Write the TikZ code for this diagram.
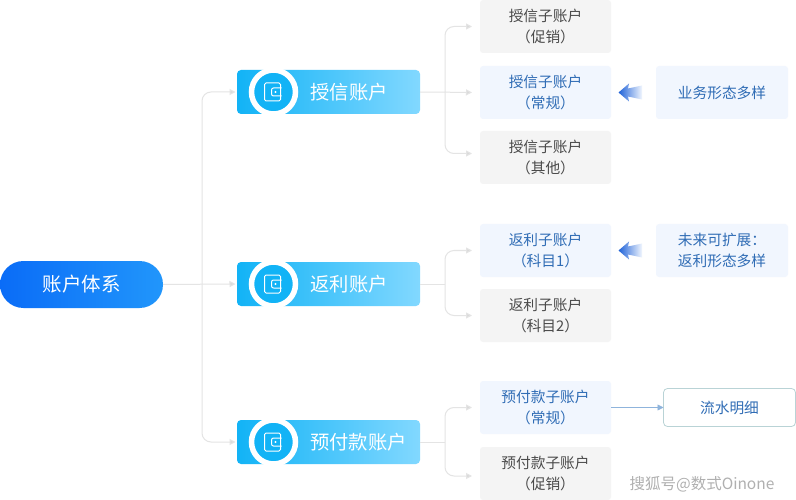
\documentclass[tikz,border=0pt]{standalone}
\usepackage{fontspec}
\setmainfont{Noto Sans CJK SC}
\usetikzlibrary{arrows.meta,calc}
\definecolor{graybox}{HTML}{F4F4F4}
\definecolor{bluebox}{HTML}{F1F6FE}
\definecolor{bluetext}{HTML}{2F6CB5}
\definecolor{graytext}{HTML}{4A4A4A}
\definecolor{conn}{HTML}{E4E4E4}
\definecolor{connt}{HTML}{DADADA}
\definecolor{acl}{HTML}{12B3F6}
\definecolor{acr}{HTML}{82D8FF}
\definecolor{rootl}{HTML}{0A6CF7}
\definecolor{rootr}{HTML}{2196FB}
\definecolor{arrowl}{HTML}{1F62D8}
\definecolor{bordc}{HTML}{B9D3D6}
\definecolor{linkc}{HTML}{8FB4DC}
\definecolor{wmc}{HTML}{B0B0B0}
\tikzset{
  x=1pt,y=-1pt,
  every node/.style={inner sep=0pt,outer sep=0pt,align=center},
  rootbox/.style={minimum width=163pt,minimum height=47pt,rounded corners=23.5pt,left color=rootl,right color=rootr,text=white,font=\fontsize{19.5}{22}\selectfont},
  acct/.style={minimum width=183pt,minimum height=44pt,rounded corners=4pt,left color=acl,right color=acr},
  accttext/.style={text=white,font=\fontsize{19.3}{22}\selectfont},
  sub/.style={minimum width=131pt,minimum height=53pt,rounded corners=3pt,font=\fontsize{14.7}{21}\selectfont},
  subgray/.style={sub,fill=graybox,text=graytext},
  subblue/.style={sub,fill=bluebox,text=bluetext},
  ring/.style={circle,minimum size=44pt,draw=white,line width=5.5pt,fill=acl},
  link/.style={draw=conn,line width=1pt,rounded corners=9pt,-{Triangle[length=6pt,width=6pt,fill=connt]}},
  wallet/.style={draw=white,line width=1pt,line join=round},
  bigarrow/.style={left color=arrowl,middle color=arrowl!60!bluebox,right color=bluebox},
}
\newcommand{\walleticon}[1]{%
  \draw[wallet,rounded corners=1.5pt] ($(#1)+(-9,-9)$) -- ($(#1)+(7,-9)$) -- ($(#1)+(7,9)$) -- ($(#1)+(-9,9)$) -- cycle;
  \draw[wallet,rounded corners=2pt] ($(#1)+(8,-4)$) -- ($(#1)+(-2,-4)$) -- ($(#1)+(-2,4)$) -- ($(#1)+(8,4)$);
  \fill[white] ($(#1)+(2,0)$) circle (1.2pt);
}
\newcommand{\bigarr}[1]{%
  \shade[bigarrow] ($(#1)+(-37.5,0)$) -- ($(#1)+(-27,-9)$) -- ($(#1)+(-28,-4)$) -- ($(#1)+(-14,-7)$) -- ($(#1)+(-14,7)$) -- ($(#1)+(-28,4)$) -- ($(#1)+(-27,9)$) -- cycle;
}
\begin{document}
\begin{tikzpicture}
\useasboundingbox (0,0) rectangle (796,500);
\fill[white] (0,0) rectangle (796,500);

\node[rootbox] (root) at (81.5,284.5) {账户体系};

\node[acct] (a1) at (328.5,92) {};
\node[acct] (a2) at (328.5,284) {};
\node[acct] (a3) at (328.5,442) {};

\node[subgray] (s11) at (545.5,26.5) {授信子账户\\（促销）};
\node[subblue] (s12) at (545.5,92.5) {授信子账户\\（常规）};
\node[subgray] (s13) at (545.5,157.5) {授信子账户\\（其他）};
\node[subblue] (s21) at (545.5,250.5) {返利子账户\\（科目1）};
\node[subgray] (s22) at (545.5,315.5) {返利子账户\\（科目2）};
\node[subblue] (s31) at (545.5,407.5) {预付款子账户\\（常规）};
\node[subgray] (s32) at (545.5,473.5) {预付款子账户\\（促销）};

\node[subblue,minimum width=132pt] (n1) at (722,92.5) {业务形态多样};
\node[subblue,minimum width=132pt] (n2) at (722,250.5) {未来可扩展：\\返利形态多样};
\node[minimum width=132pt,minimum height=38pt,rounded corners=4pt,draw=bordc,line width=.8pt,fill=white,text=bluetext,font=\fontsize{14.7}{21}\selectfont] (n3) at (729.5,407.5) {流水明细};

\foreach \t/\c in {a1/a,a2/b,a3/c}{
  \node[ring] (ring\c) at ($(\t.west)+(36.5,0)$) {};
  \walleticon{ring\c}
}
\node[accttext] (t1) at (349,92) {授信账户};
\node[accttext] (t2) at (349,284) {返利账户};
\node[accttext] (t3) at (358.5,442) {预付款账户};

% junctions on the trunks
\coordinate (j0) at ($(root.east)+(39,0)$);
\coordinate (j1) at ($(a1.east)+(25,0)$);
\coordinate (j2) at ($(a2.east)+(25,0)$);
\coordinate (j3) at ($(a3.east)+(25,0)$);

% connectors
\draw[link,shorten >=1.5pt] (root.east) -- (a2.west);
\draw[link,shorten >=1.5pt] (j0) |- (a1.west);
\draw[link,shorten >=1.5pt] (j0) |- (a3.west);

\draw[link,shorten >=8pt] (a1.east) -- (s12.west);
\draw[link,shorten >=8pt] (j1) |- (s11.west);
\draw[link,shorten >=8pt] (j1) |- ($(s13.west)+(0,-4)$);
\draw[draw=conn,line width=1pt] (a2.east) -- (j2);
\draw[link,shorten >=8pt] (j2) |- (s21.west);
\draw[link,shorten >=8pt] (j2) |- (s22.west);
\draw[draw=conn,line width=1pt] (a3.east) -- (j3);
\draw[link,shorten >=8pt] (j3) |- (s31.west);
\draw[link,shorten >=8pt] (j3) |- ($(s32.west)+(0,2.5)$);

\draw[draw=linkc,line width=.8pt,-{Triangle[length=6pt,width=6pt]}] (s31.east) -- (n3.west);

\bigarr{n1.west}
\bigarr{n2.west}

\node[text=wmc,font=\fontsize{15.5}{18}\selectfont] (wm) at (702,484) {搜狐号@数式Oinone};
\end{tikzpicture}
\end{document}
